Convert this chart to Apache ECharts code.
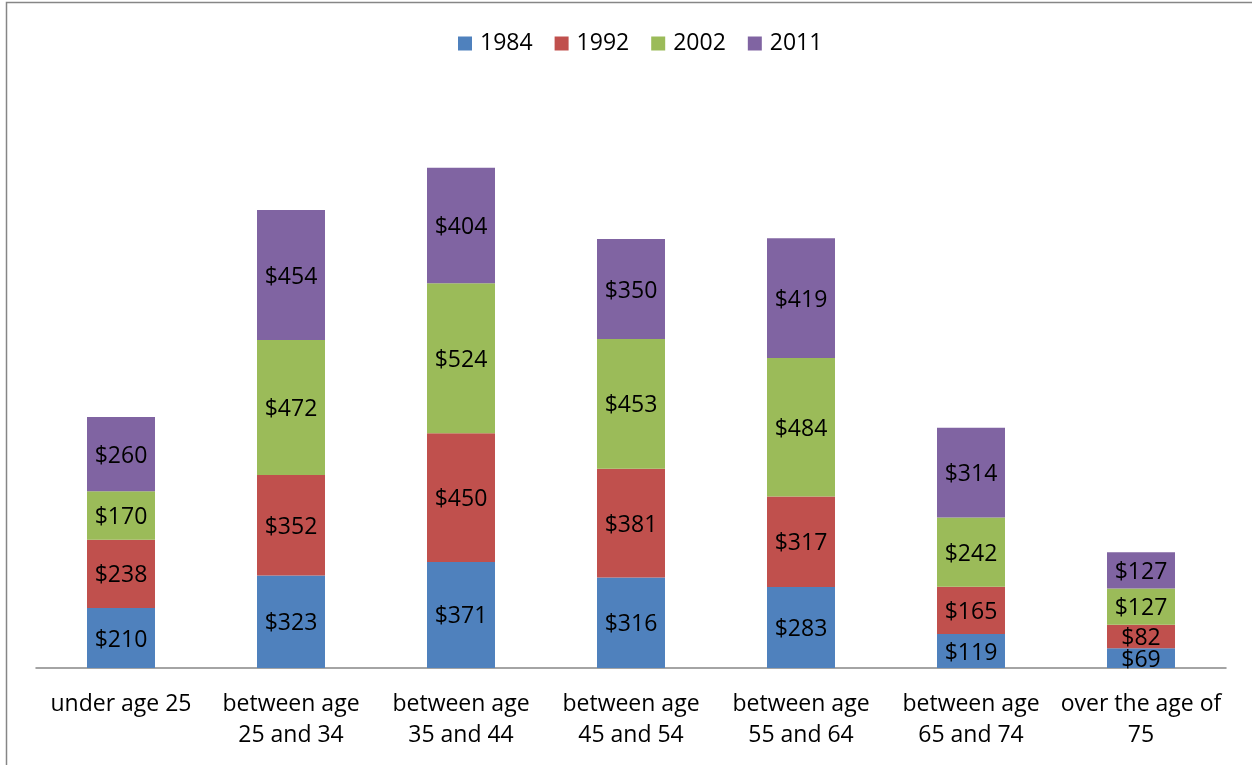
<!DOCTYPE html>
<html>
<head>
<meta charset="utf-8">
<script src="https://cdn.jsdelivr.net/npm/echarts@6/dist/echarts.min.js"></script>
<style>
  html, body { margin: 0; padding: 0; background: #fff; }
  #chart { width: 1252px; height: 765px; }
</style>
</head>
<body>
<div id="chart"></div>
<script>
// Age groups along the horizontal axis
const categories = [
  'under age 25',
  'between age\n25 and 34',
  'between age\n35 and 44',
  'between age\n45 and 54',
  'between age\n55 and 64',
  'between age\n65 and 74',
  'over the age of\n75'
];

// Stacked amounts per year
const years = ['1984', '1992', '2002', '2011'];
const values1984 = [210, 323, 371, 316, 283, 119, 69];
const values1992 = [238, 352, 450, 381, 317, 165, 82];
const values2002 = [170, 472, 524, 453, 484, 242, 127];
const values2011 = [260, 454, 404, 350, 419, 314, 127];

const colors = ['#4F81BD', '#C0504D', '#9BBB59', '#8064A2'];
const seriesValues = [values1984, values1992, values2002, values2011];
const fontFamily = '"Open Sans", "Noto Sans", sans-serif';

const chart = echarts.init(document.getElementById('chart'));

chart.setOption({
  animation: false,
  color: colors,
  legend: {
    data: years,
    top: 27,
    left: 453,
    itemWidth: 14,
    itemHeight: 14,
    itemGap: 22,
    icon: 'rect',
    textStyle: { fontFamily, fontSize: 23, color: '#000', padding: [0, 0, 0, 3] }
  },
  grid: { left: 36, right: 26, top: 96, bottom: 97 },
  xAxis: {
    type: 'category',
    data: categories,
    axisLine: { lineStyle: { color: '#868686', width: 1.5 } },
    axisTick: { show: false },
    axisLabel: {
      fontFamily, fontSize: 23, color: '#000',
      lineHeight: 31, margin: 21, interval: 0
    }
  },
  yAxis: {
    type: 'value',
    min: 0,
    max: 2000,
    show: false,
    splitLine: { show: false }
  },
  graphic: [{
    type: 'rect',
    silent: true,
    shape: { x: 6.5, y: 2.5, width: 1300, height: 800 },
    style: { fill: 'none', stroke: '#868686', lineWidth: 1.5 }
  }],
  series: years.map((name, i) => ({
    name,
    type: 'bar',
    stack: 'total',
    barWidth: '40%',
    data: seriesValues[i],
    itemStyle: { color: colors[i] },
    label: {
      show: true,
      position: 'inside',
      offset: [0, 2],
      fontFamily, fontSize: 23, color: '#000',
      formatter: p => '$' + p.value
    }
  }))
});
</script>
</body>
</html>
